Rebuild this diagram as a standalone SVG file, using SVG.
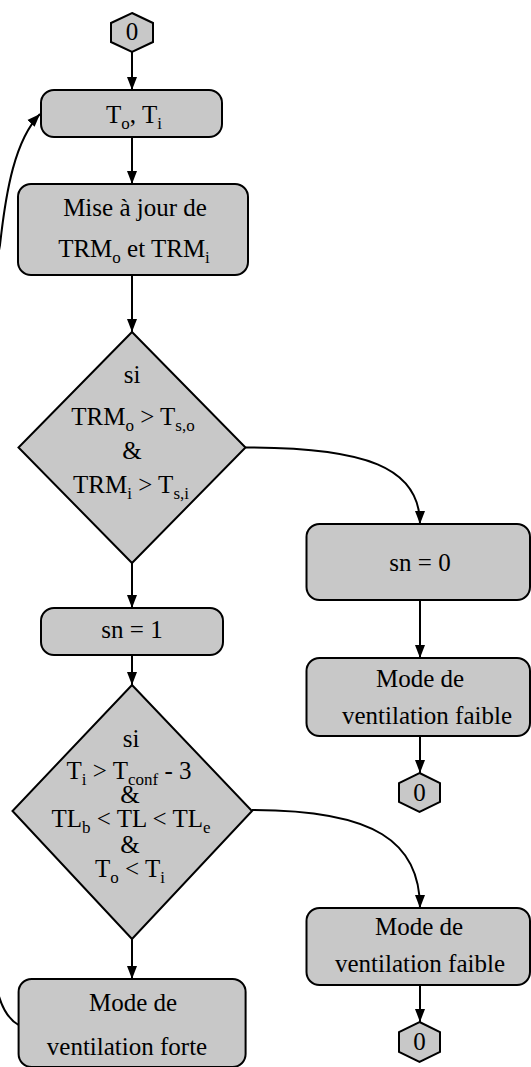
<svg xmlns="http://www.w3.org/2000/svg" width="531" height="1067" viewBox="0 0 531 1067" font-family="Liberation Serif, DejaVu Serif, serif">
<style>
.n{fill:#c8c8c8;stroke:#000;stroke-width:2}
.t{font-family:'Liberation Serif','DejaVu Serif',serif;font-size:25px;fill:#000;text-anchor:middle}
.s{font-size:17px}
.e{fill:none;stroke:#000;stroke-width:2}
</style>
<defs>
<marker id="a" markerUnits="userSpaceOnUse" markerWidth="14" markerHeight="12" refX="13" refY="5" orient="auto" viewBox="0 0 14 10">
<path d="M0,0 L13,5 L0,10 z" fill="#000"/>
</marker>
</defs>
<g id="connectors">
<path class="e" d="M132,52 L132,90" marker-end="url(#a)"/>
<path class="e" d="M132,137 L132,184" marker-end="url(#a)"/>
<path class="e" d="M132,275 L132,332" marker-end="url(#a)"/>
<path class="e" d="M245.5,447.5 C365,447.5 420,467 420,524" marker-end="url(#a)"/>
<path class="e" d="M132,563 L132,608" marker-end="url(#a)"/>
<path class="e" d="M132,655 L132,685" marker-end="url(#a)"/>
<path class="e" d="M420,600 L420,658" marker-end="url(#a)"/>
<path class="e" d="M420,736 L420,773" marker-end="url(#a)"/>
<path class="e" d="M252,810 C375,810 420,842 420,908" marker-end="url(#a)"/>
<path class="e" d="M132,939 L132,979" marker-end="url(#a)"/>
<path class="e" d="M420,985 L420,1022" marker-end="url(#a)"/>
<path class="e" d="M18.6,1025 C8,1019 2,1008 -2,993 C-30,800 -30,400 0,245 C6,190 15,140 40,114" marker-end="url(#a)"/>
</g>
<g id="start">
<polygon class="n" points="132,13 153,23 153,42 132,52 111,42 111,23"/>
<text class="t" x="132" y="40">0</text>
</g>
<g id="input">
<rect class="n" x="41" y="90" width="181" height="47" rx="13"/>
<text class="t" x="134" y="123">T<tspan class="s" dy="6">o</tspan><tspan dy="-6">, T</tspan><tspan class="s" dy="6">i</tspan></text>
</g>
<g id="update">
<rect class="n" x="18" y="184" width="230" height="91" rx="13"/>
<text class="t" x="135" y="216">Mise à jour de</text>
<text class="t" x="134" y="257">TRM<tspan class="s" dy="6">o</tspan><tspan dy="-6"> et TRM</tspan><tspan class="s" dy="6">i</tspan></text>
</g>
<g id="cond1">
<polygon class="n" points="132,332 245.5,447.5 132,563 18.5,447.5"/>
<text class="t" x="132" y="383">si</text>
<text class="t" x="133" y="425">TRM<tspan class="s" dy="6">o</tspan><tspan dy="-6"> &gt; T</tspan><tspan class="s" dy="6">s,o</tspan></text>
<text class="t" x="132" y="459">&amp;</text>
<text class="t" x="131" y="493">TRM<tspan class="s" dy="6">i</tspan><tspan dy="-6"> &gt; T</tspan><tspan class="s" dy="6">s,i</tspan></text>
</g>
<g id="sn0">
<rect class="n" x="306.5" y="524" width="223.5" height="76" rx="13"/>
<text class="t" x="420" y="571">sn = 0</text>
</g>
<g id="faible1">
<rect class="n" x="306.5" y="658" width="223.5" height="78" rx="13"/>
<text class="t" x="420" y="687">Mode de</text>
<text class="t" x="427" y="724">ventilation faible</text>
</g>
<g id="end1">
<polygon class="n" points="419.5,773 440,783 440,802 419.5,812 399,802 399,783"/>
<text class="t" x="419.5" y="801">0</text>
</g>
<g id="sn1">
<rect class="n" x="41" y="608" width="182" height="47" rx="13"/>
<text class="t" x="132" y="638">sn = 1</text>
</g>
<g id="cond2">
<polygon class="n" points="132,685 252,811 132,939 12.5,811"/>
<text class="t" x="131" y="747">si</text>
<text class="t" x="129" y="779">T<tspan class="s" dy="6">i</tspan><tspan dy="-6"> &gt; T</tspan><tspan class="s" dy="6">conf</tspan><tspan dy="-6"> - 3</tspan></text>
<text class="t" x="130" y="803">&amp;</text>
<text class="t" x="131" y="827">TL<tspan class="s" dy="6">b</tspan><tspan dy="-6"> &lt; TL &lt; TL</tspan><tspan class="s" dy="6">e</tspan></text>
<text class="t" x="130" y="853">&amp;</text>
<text class="t" x="130" y="877">T<tspan class="s" dy="6">o</tspan><tspan dy="-6"> &lt; T</tspan><tspan class="s" dy="6">i</tspan></text>
</g>
<g id="faible2">
<rect class="n" x="306.5" y="908" width="223.5" height="77" rx="13"/>
<text class="t" x="419" y="935">Mode de</text>
<text class="t" x="420" y="972">ventilation faible</text>
</g>
<g id="end2">
<polygon class="n" points="419.5,1022 440,1032 440,1052 419.5,1062 399,1052 399,1032"/>
<text class="t" x="419.5" y="1050">0</text>
</g>
<g id="forte">
<rect class="n" x="18.6" y="979" width="227" height="88" rx="13"/>
<text class="t" x="133" y="1011">Mode de</text>
<text class="t" x="127" y="1055">ventilation forte</text>
</g>
</svg>
